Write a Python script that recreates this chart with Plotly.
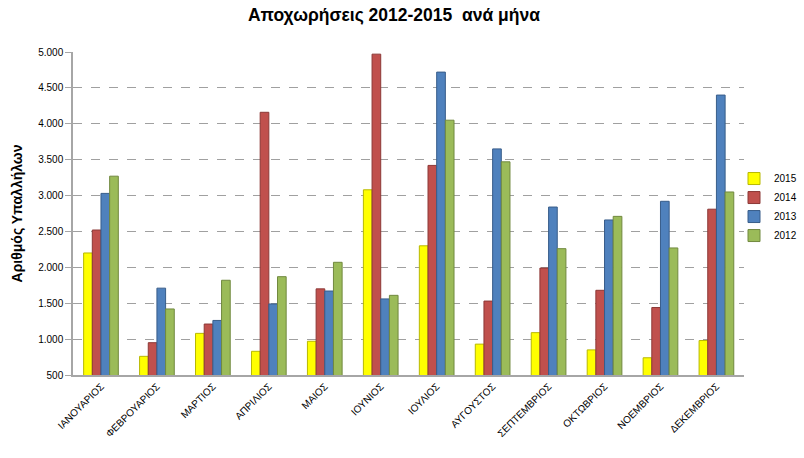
import plotly.graph_objects as go

months = ["ΙΑΝΟΥΑΡΙΟΣ", "ΦΕΒΡΟΥΑΡΙΟΣ", "ΜΑΡΤΙΟΣ", "ΑΠΡΙΛΙΟΣ", "ΜΑΙΟΣ", "ΙΟΥΝΙΟΣ",
          "ΙΟΥΛΙΟΣ", "ΑΥΓΟΥΣΤΟΣ", "ΣΕΠΤΕΜΒΡΙΟΣ", "ΟΚΤΩΒΡΙΟΣ", "ΝΟΕΜΒΡΙΟΣ", "ΔΕΚΕΜΒΡΙΟΣ"]
y2015 = [2200, 760, 1080, 830, 970, 3080, 2300, 930, 1090, 850, 740, 980]
y2014 = [2520, 950, 1210, 4160, 1700, 4970, 3420, 1530, 1990, 1680, 1440, 2810]
y2013 = [3030, 1710, 1260, 1490, 1670, 1560, 4720, 3650, 2840, 2660, 2920, 4400]
y2012 = [3270, 1420, 1820, 1870, 2070, 1610, 4050, 3470, 2260, 2710, 2270, 3050]
series_names = ["2015", "2014", "2013", "2012"]
colors = ["#FFFF00", "#C0504D", "#4F81BD", "#9BBB59"]
edges = ["#B8B800", "#8C3836", "#385D8A", "#71893F"]
ticks = list(range(500, 5001, 500))

fig = go.Figure()
for name, vals, c, e in zip(series_names, [y2015, y2014, y2013, y2012], colors, edges):
    fig.add_trace(go.Bar(x=months, y=vals, name=name,
                         marker=dict(color=c, line=dict(color=e, width=1))))

fig.update_layout(
    width=804, height=458,
    separators=",.",
    paper_bgcolor="white", plot_bgcolor="white",
    margin=dict(l=73, r=2, t=52, b=83),
    barmode="group", bargap=0.38, bargroupgap=0.0,
    font=dict(family="Liberation Sans, Arial, sans-serif", color="black"),
    title=dict(text="<b>Αποχωρήσεις 2012-2015  ανά μήνα</b>", x=0.49, xanchor="center",
               y=0.968, yanchor="middle", font=dict(size=17.5, color="black")),
    legend=dict(x=1.0, y=0.52, xanchor="right", yanchor="middle", font=dict(size=10),
                itemwidth=30, bgcolor="rgba(0,0,0,0)"),
    showlegend=True,
)
fig.update_xaxes(domain=[0, 0.921], showline=True, linecolor="#A6A6A6", linewidth=1.5, ticks="",
                 tickangle=-45, tickfont=dict(size=10), showgrid=False)
fig.update_yaxes(range=[500, 5000], tickvals=ticks, tickformat=",d",
                 showline=True, linecolor="#A6A6A6", linewidth=1.5,
                 ticks="outside", ticklen=6, tickcolor="#A6A6A6",
                 tickfont=dict(size=10),
                 showgrid=True, gridcolor="#A0A0A0", griddash="dash", gridwidth=1,
                 title=dict(text="<b>Αριθμός Υπαλλήλων</b>", font=dict(size=14), standoff=12))

fig.write_html("out.html")
